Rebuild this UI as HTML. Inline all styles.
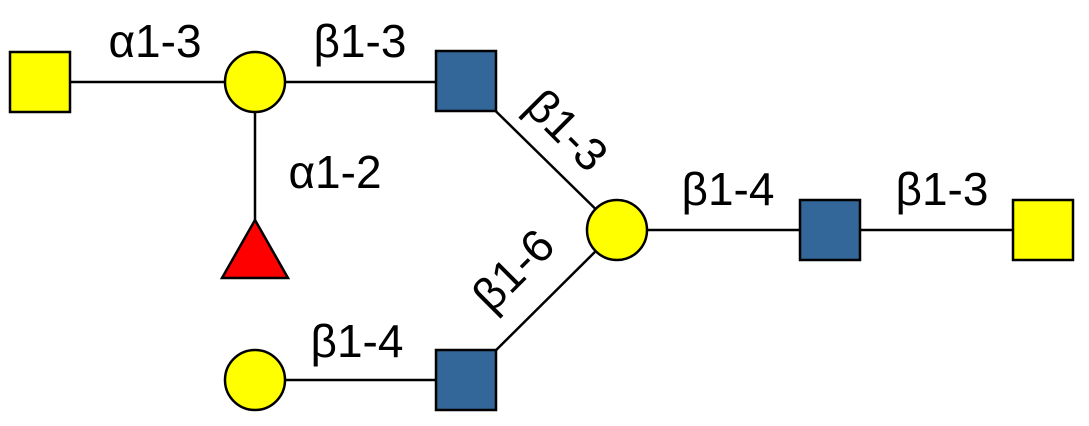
<!DOCTYPE html>
<html><head><style>body{margin:0;background:#fff}svg{display:block}</style></head><body>
<svg width="1089" height="426" viewBox="0 0 1089 426" xmlns="http://www.w3.org/2000/svg" font-family="Liberation Sans, DejaVu Sans, sans-serif" font-size="46" fill="#000">
<g stroke="#000" stroke-width="2.5">
<line x1="40" y1="82" x2="255" y2="82"/>
<line x1="255" y1="82" x2="466" y2="82"/>
<line x1="255" y1="82" x2="255" y2="250"/>
<line x1="466" y1="82" x2="617" y2="230"/>
<line x1="466" y1="380" x2="617" y2="230"/>
<line x1="617" y1="230" x2="1043" y2="230"/>
<line x1="255" y1="380" x2="466" y2="380"/>
</g>
<g stroke="#000" stroke-width="2.5">
<rect x="10" y="52" width="60" height="60" fill="#ffff00"/>
<circle cx="255" cy="82" r="30" fill="#ffff00"/>
<rect x="436" y="51" width="60" height="60" fill="#336699"/>
<polygon points="255,220 288,278 222,278" fill="#ff0000"/>
<circle cx="617" cy="230" r="30" fill="#ffff00"/>
<rect x="800" y="200" width="60" height="60" fill="#336699"/>
<rect x="1013" y="200" width="60" height="60" fill="#ffff00"/>
<circle cx="255" cy="380" r="30" fill="#ffff00"/>
<rect x="436" y="350" width="60" height="60" fill="#336699"/>
</g>
<text x="155" y="57" text-anchor="middle">α1-3</text>
<text x="360" y="57" text-anchor="middle">β1-3</text>
<text x="335" y="188" text-anchor="middle">α1-2</text>
<text x="728" y="205" text-anchor="middle">β1-4</text>
<text x="942" y="205" text-anchor="middle">β1-3</text>
<text x="357" y="357" text-anchor="middle">β1-4</text>
<text transform="translate(567,130) rotate(45)" text-anchor="middle" dy="16">β1-3</text>
<text transform="translate(513,270) rotate(-45)" text-anchor="middle" dy="16">β1-6</text>
</svg>
</body></html>
